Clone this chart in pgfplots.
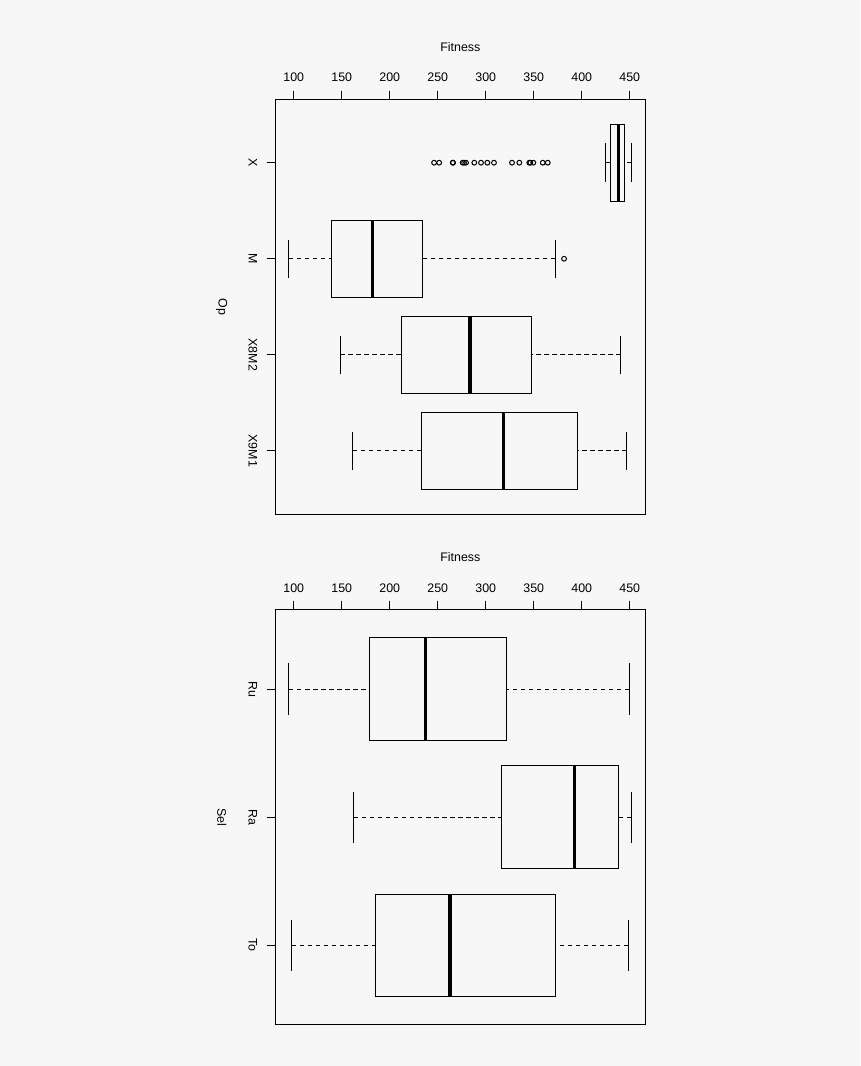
\documentclass[border=0pt]{standalone}
\usepackage{pgfplots}
\pgfplotsset{compat=1.18}
\usepgfplotslibrary{statistics}
\usepackage{fontspec}
\setmainfont{Liberation Sans}
\definecolor{bg}{HTML}{F7F7F7}

\pgfplotsset{
  rbox/.style={
    scale only axis, width=369.3pt, height=415pt,
    xmin=81.25, xmax=465.9,
    y dir=reverse,
    xtick={100,150,...,450},
    xtick pos=right, xticklabel pos=right,
    ytick pos=left, yticklabel pos=left,
    tick align=outside, major tick length=8.7pt,
    axis line style={line width=1pt},
    every tick/.style={line width=1pt, black},
    /pgf/number format/assume math mode=true,
    /pgf/number format/1000 sep={},
    xticklabel shift=4.5pt,
    yticklabel shift=5.5pt,
    xlabel=Fitness,
    xlabel style={at={(axis description cs:0.5,1)}, anchor=base, yshift=48pt},
    yticklabel style={rotate=-90, anchor=north},
    ylabel style={rotate=180, at={([xshift=-54pt]axis description cs:0,0.5)}, anchor=center},
    boxplot/box extend=0.8,
    boxplot/whisker extend=0.4,
    boxplot/every box/.style={line width=1pt},
    boxplot/every median/.style={line width=3.2pt},
    boxplot/draw/lower whisker/.code={%
      \draw[dash pattern=on 4.5pt off 3.5pt, line width=1pt]
        (boxplot box cs:\pgfplotsboxplotvalue{lower whisker},0.5) --
        (boxplot box cs:\pgfplotsboxplotvalue{lower quartile},0.5);
      \draw[line width=1pt]
        (boxplot whisker cs:\pgfplotsboxplotvalue{lower whisker},0) --
        (boxplot whisker cs:\pgfplotsboxplotvalue{lower whisker},1);
    },
    boxplot/draw/upper whisker/.code={%
      \draw[dash pattern=on 4.5pt off 3.5pt, line width=1pt]
        (boxplot box cs:\pgfplotsboxplotvalue{upper whisker},0.5) --
        (boxplot box cs:\pgfplotsboxplotvalue{upper quartile},0.5);
      \draw[line width=1pt]
        (boxplot whisker cs:\pgfplotsboxplotvalue{upper whisker},0) --
        (boxplot whisker cs:\pgfplotsboxplotvalue{upper whisker},1);
    },
  },
  rplot/.style={black, solid, mark=o, mark size=2.4pt,
    mark options={solid, line width=1pt, black}},
}

\begin{document}
\fontsize{12.4}{15}\selectfont
\begin{tikzpicture}
\useasboundingbox (0,0) rectangle (860pt,1066pt);
\fill[bg] (0,0) rectangle (860pt,1066pt);

% top: fitness by operator
\begin{axis}[rbox, at={(275.7pt,551.7pt)}, anchor=south west,
  ymin=0.34, ymax=4.66,
  ytick={1,2,3,4}, yticklabels={X,M,X8M2,X9M1},
  ylabel=Op]
\addplot[rplot, boxplot prepared={draw position=1,
  lower whisker=424.6, lower quartile=429.8, median=438.1,
  upper quartile=444.1, upper whisker=451.7}]
  table[row sep=\\, y index=0] {v\\ 246.2\\ 251.5\\ 265.6\\ 266.0\\ 276.0\\ 277.5\\ 279.5\\ 288.1\\ 295.1\\ 301.7\\ 308.6\\ 327.4\\ 335.0\\ 345.4\\ 346.5\\ 349.6\\ 359.4\\ 364.6\\};
\addplot[rplot, boxplot prepared={draw position=2,
  lower whisker=95.1, lower quartile=139.6, median=181.9,
  upper quartile=234.0, upper whisker=372.2}]
  table[row sep=\\, y index=0] {v\\ 381.6\\};
\addplot[rplot, boxplot prepared={draw position=3,
  lower whisker=148.6, lower quartile=212.5, median=283.6,
  upper quartile=347.9, upper whisker=440.6}]
  coordinates {};
\addplot[rplot, boxplot prepared={draw position=4,
  lower whisker=161.4, lower quartile=233.0, median=318.4,
  upper quartile=396.1, upper whisker=446.9}]
  coordinates {};
\end{axis}

% bottom: fitness by selection
\begin{axis}[rbox, at={(275.7pt,41.3pt)}, anchor=south west,
  ymin=0.38, ymax=3.62,
  ytick={1,2,3}, yticklabels={Ru,Ra,To},
  ylabel=Sel]
\addplot[rplot, boxplot prepared={draw position=1,
  lower whisker=95.1, lower quartile=179.2, median=237.1,
  upper quartile=321.5, upper whisker=449.3}]
  coordinates {};
\addplot[rplot, boxplot prepared={draw position=2,
  lower whisker=162.8, lower quartile=316.7, median=392.7,
  upper quartile=438.1, upper whisker=451.7}]
  coordinates {};
\addplot[rplot, boxplot prepared={draw position=3,
  lower whisker=98.2, lower quartile=185.4, median=262.8,
  upper quartile=372.2, upper whisker=448.2}]
  coordinates {};
\end{axis}
\end{tikzpicture}
\end{document}
